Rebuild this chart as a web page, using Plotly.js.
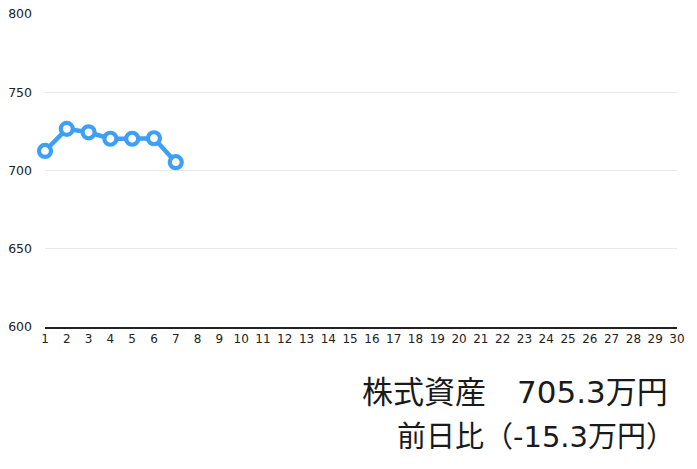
<!DOCTYPE html>
<html>
<head>
<meta charset="utf-8">
<script src="https://cdn.plot.ly/plotly-3.0.1.min.js"></script>
<style>
  html, body { margin: 0; padding: 0; background: #fff; }
  #myDiv { width: 697px; height: 469px; }
</style>
</head>
<body>
<div id="myDiv"></div>
<script>
// daily values (10k yen)
var days = [1, 2, 3, 4, 5, 6, 7];
var assets = [712.5, 726.6, 724.4, 720.3, 720.3, 720.6, 705.3];

var dayTicks = [];
for (var d = 1; d <= 30; d++) dayTicks.push(d);
var yTicks = [600, 650, 700, 750, 800];

var labelAsset = '株式資産　705.3万円';
var labelDiff = '前日比（-15.3万円）';

var blue = '#3d9ff5';
var jpFont = '"Noto Sans CJK JP", "Noto Sans", sans-serif';
var tickFont = '"DejaVu Sans", sans-serif';
var noteFont = '"DejaVu Sans", "Noto Sans CJK JP", sans-serif';

var trace = {
  x: days,
  y: assets,
  type: 'scatter',
  mode: 'lines+markers',
  cliponaxis: false,
  line: {color: blue, width: 4.5},
  marker: {size: 12, color: '#ffffff', line: {color: blue, width: 4.2}},
  hoverinfo: 'none'
};

var layout = {
  width: 697,
  height: 469,
  margin: {l: 45, r: 20, t: 14, b: 142},
  showlegend: false,
  plot_bgcolor: '#fff',
  paper_bgcolor: '#fff',
  font: {family: jpFont, color: '#222'},
  xaxis: {
    range: [1, 30],
    tickvals: dayTicks,
    ticktext: dayTicks.map(String),
    tickfont: {size: 12, family: tickFont, color: '#222'},
    showgrid: false,
    zeroline: false,
    showline: true,
    linecolor: '#222',
    linewidth: 1.5,
    ticks: '',
    ticklen: 0
  },
  yaxis: {
    range: [600, 800],
    tickvals: yTicks,
    tickfont: {size: 12.5, family: tickFont, color: '#222'},
    showgrid: true,
    gridcolor: '#e8e8e8',
    gridwidth: 1,
    zeroline: false,
    showline: false,
    ticks: '',
    ticklabelstandoff: 12
  },
  annotations: [
    {
      xref: 'paper', yref: 'paper',
      x: 0.989, y: -0.207,
      xanchor: 'right', yanchor: 'middle',
      text: labelAsset,
      showarrow: false,
      font: {size: 31, family: noteFont, color: '#1a1a1a'}
    },
    {
      xref: 'paper', yref: 'paper',
      x: 1.0, y: -0.35,
      xanchor: 'right', yanchor: 'middle',
      text: labelDiff,
      showarrow: false,
      font: {size: 29, family: noteFont, color: '#1a1a1a'}
    }
  ]
};

Plotly.newPlot('myDiv', [trace], layout, {displayModeBar: false, staticPlot: true});
</script>
</body>
</html>
